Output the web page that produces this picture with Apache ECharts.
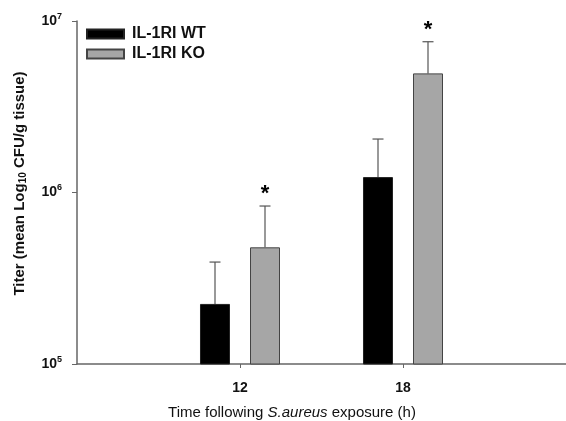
<!DOCTYPE html>
<html>
<head>
<meta charset="utf-8">
<script src="https://cdn.jsdelivr.net/npm/echarts@6/dist/echarts.min.js"></script>
<style>
  html, body { margin: 0; padding: 0; background: #fff; }
  #chart { width: 566px; height: 421px; }
</style>
</head>
<body>
<div id="chart"></div>
<script>
// x positions (hours); 6 and 24 only span the axis
var hours = ['6', '12', '18', '24'];
var seriesNames = ['IL-1RI WT', 'IL-1RI KO'];
var wtMean = [null, 2.24e5, 1.23e6, null];
var wtErrTop = [null, 3.93e5, 2.05e6, null];
var koMean = [null, 4.79e5, 4.95e6, null];
var koErrTop = [null, 8.34e5, 7.57e6, null];
var koStar = [false, true, true, false];

var chart = echarts.init(document.getElementById('chart'));

// error bar (upper whisker) drawn on top of a bar; offset = shift from category centre
function errorSeries(name, tops, means, stars, offset) {
  var data = [];
  for (var i = 0; i < hours.length; i++) {
    if (means[i] != null) data.push([i, means[i], tops[i], stars ? stars[i] : false]);
  }
  return {
    type: 'custom',
    name: name + ' err',
    z: 1,
    silent: true,
    data: data,
    encode: { x: 0, y: [1, 2] },
    renderItem: function (params, api) {
      var base = api.coord([api.value(0), api.value(1)]);
      var top = api.coord([api.value(0), api.value(2)]);
      var x = base[0] + offset;
      var kids = [
        { type: 'line', shape: { x1: x, y1: base[1], x2: x, y2: top[1] },
          style: { stroke: '#555', lineWidth: 1.2 } },
        { type: 'line', shape: { x1: x - 5.5, y1: top[1], x2: x + 5.5, y2: top[1] },
          style: { stroke: '#555', lineWidth: 1.2 } }
      ];
      if (api.value(3)) {
        kids.push({ type: 'text', style: { text: '*', x: x, y: top[1] - 1,
          fill: '#000', font: 'bold 22px "Liberation Sans", Arial',
          align: 'center', verticalAlign: 'bottom' } });
      }
      return { type: 'group', children: kids };
    }
  };
}

var supRich = {
  b: { fontSize: 14, fontWeight: 'bold', color: '#111', fontFamily: 'Liberation Sans' },
  s: { fontSize: 9, fontWeight: 'bold', color: '#111', fontFamily: 'Liberation Sans', padding: [0, 0, 9, 0] }
};

var option = {
  backgroundColor: '#fff',
  animation: false,
  textStyle: { fontFamily: 'Liberation Sans' },
  grid: { left: 77, right: 0, top: 21, bottom: 57 },
  legend: {
    orient: 'vertical',
    left: 86,
    top: 26,
    padding: 0,
    icon: 'rect',
    itemWidth: 37,
    itemHeight: 9,
    itemGap: 4,
    data: seriesNames,
    textStyle: { fontSize: 16, fontWeight: 'bold', color: '#111', padding: [0, 0, 0, 3] }
  },
  title: {
    text: 'Time following {i|S.aureus} exposure (h)',
    left: 287,
    top: 400,
    textAlign: 'center',
    textStyle: {
      fontSize: 15, fontWeight: 'normal', color: '#111',
      rich: { i: { fontSize: 15, fontStyle: 'italic', color: '#111' } }
    }
  },
  xAxis: {
    type: 'category',
    data: hours,
    boundaryGap: false,
    axisLine: { lineStyle: { color: '#666', width: 1.5 } },
    axisTick: {
      length: 4,
      lineStyle: { color: '#666' },
      interval: function (idx) { return idx === 1 || idx === 2; }
    },
    axisLabel: {
      margin: 17,
      fontSize: 14,
      fontWeight: 'bold',
      color: '#111',
      interval: function (idx) { return idx === 1 || idx === 2; }
    }
  },
  yAxis: {
    type: 'log',
    logBase: 10,
    min: 1e5,
    max: 1e7,
    name: 'Titer (mean Log{sub|10} CFU/g tissue)',
    nameLocation: 'middle',
    nameGap: 49,
    nameTextStyle: {
      fontSize: 15, fontWeight: 'bold', color: '#111',
      padding: [0, 0, 0, 18],
      rich: { sub: { fontSize: 10, fontWeight: 'bold', color: '#111', padding: [7, 0, 0, 0] } }
    },
    splitLine: { show: false },
    minorTick: { show: false },
    axisLine: { show: true, lineStyle: { color: '#666', width: 1.5 } },
    axisTick: { show: true, length: 5, lineStyle: { color: '#666' } },
    axisLabel: {
      margin: 15,
      formatter: function (v) {
        return '{b|10}{s|' + Math.round(Math.log10(v)) + '}';
      },
      rich: supRich
    }
  },
  series: [
    {
      name: seriesNames[0],
      type: 'bar',
      data: wtMean,
      barWidth: 30,
      barGap: '66.7%',
      itemStyle: { color: '#000', borderColor: '#222', borderWidth: 1 },
      z: 2
    },
    {
      name: seriesNames[1],
      type: 'bar',
      data: koMean,
      barWidth: 30,
      itemStyle: { color: '#a6a6a6', borderColor: '#444', borderWidth: 1 },
      z: 2
    },
    errorSeries(seriesNames[0], wtErrTop, wtMean, null, -25),
    errorSeries(seriesNames[1], koErrTop, koMean, koStar, 25)
  ]
};

chart.setOption(option);
</script>
</body>
</html>
